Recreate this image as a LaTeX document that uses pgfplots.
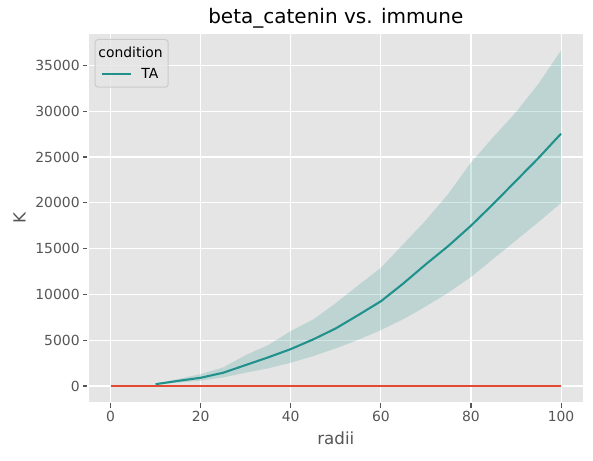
\documentclass[border=0pt]{standalone}
\usepackage{fontspec}
\setmainfont{DejaVu Sans}
\usepackage{pgfplots}
\usepackage{pgfplotstable}
\pgfplotsset{compat=1.18}
\usepgfplotslibrary{fillbetween}

\definecolor{panel}{HTML}{E5E5E5}
\definecolor{tickgray}{HTML}{555555}
\definecolor{ggred}{HTML}{E24A33}
\definecolor{tacolor}{HTML}{21918C}
\definecolor{legedge}{HTML}{CBCBCB}

% K function of the TA condition: mean and confidence band per radius
\pgfplotstableread{
r    mean   lo     hi
10   200    150    260
15   560    380    760
20   900    580    1300
25   1450   940    2030
30   2290   1450   3380
35   3130   1930   4470
40   4030   2540   6000
45   5090   3270   7270
50   6290   4110   9050
55   7750   5050   11000
60   9250   6100   12900
65   11200  7300   15500
70   13300  8700   18100
75   15300  10200  21000
80   17500  11900  24400
85   19900  13900  27200
90   22400  15900  29900
95   24900  17900  33000
100  27550  19990  36640
}\kdata

% reference curve (immune baseline)
\pgfplotstableread{
r    k
0    0
100  0
}\basedata

\begin{document}
\begin{tikzpicture}
\begin{axis}[
  scale only axis,
  width=495.6pt, height=369.2pt,
  xmin=-5, xmax=105, ymin=-1832, ymax=38472,
  axis background/.style={fill=panel},
  axis line style={white, line width=1.39pt},
  grid=major,
  major grid style={white, line width=1.11pt},
  xtick={0,20,...,100},
  ytick={0,5000,...,35000},
  scaled y ticks=false,
  /pgf/number format/1000 sep={},
  /pgf/number format/assume math mode=true,
  tick align=outside,
  xtick pos=left, ytick pos=left,
  major tick length=4.86pt,
  every tick/.style={tickgray, line width=1.11pt},
  tick label style={font=\fontsize{13.9}{16}\selectfont, text=tickgray},
  label style={font=\fontsize{16.7}{20}\selectfont, text=tickgray},
  xlabel={radii}, ylabel={K},
  xlabel style={yshift=-3pt},
  ylabel style={yshift=3pt},
  title={beta\_catenin vs. immune},
  title style={font=\fontsize{20}{24}\selectfont, text=black, anchor=base, at={(0.5,1)}, yshift=4.5pt},
  legend style={at={(0,1)}, anchor=north west, xshift=6.7pt, yshift=-5.4pt,
    draw=legedge, fill=panel, fill opacity=0.8, text opacity=1,
    rounded corners=3pt, line width=1pt,
    inner xsep=5.5pt, inner ysep=7pt, row sep=10pt, column sep=0pt,
    nodes={inner sep=0pt},
    font=\fontsize{13.9}{16}\selectfont, cells={anchor=west}},
  legend image code/.code={
    \path[draw=none, fill=none] (0pt,0pt) -- (39.7pt,0pt);
    \draw[#1] (0pt,0pt) -- (29.4pt,0pt);},
]
\addlegendimage{empty legend}
\addlegendentry{\hspace*{-43pt}condition}

\addplot[draw=none, name path=upper, forget plot] table[x=r, y=hi] {\kdata};
\addplot[draw=none, name path=lower, forget plot] table[x=r, y=lo] {\kdata};
\addplot[fill=tacolor, fill opacity=0.2, draw=none, forget plot] fill between[of=upper and lower];

\addplot[tacolor, line width=2.08pt] table[x=r, y=mean] {\kdata};
\addlegendentry{TA}

\addplot[ggred, line width=2.08pt, forget plot] table[x=r, y=k] {\basedata};
\end{axis}
\pgfresetboundingbox
\path ([shift={(-88pt,-57.2pt)}]current axis.south west) rectangle ([shift={(9.4pt,33.6pt)}]current axis.north east);
\end{tikzpicture}
\end{document}
